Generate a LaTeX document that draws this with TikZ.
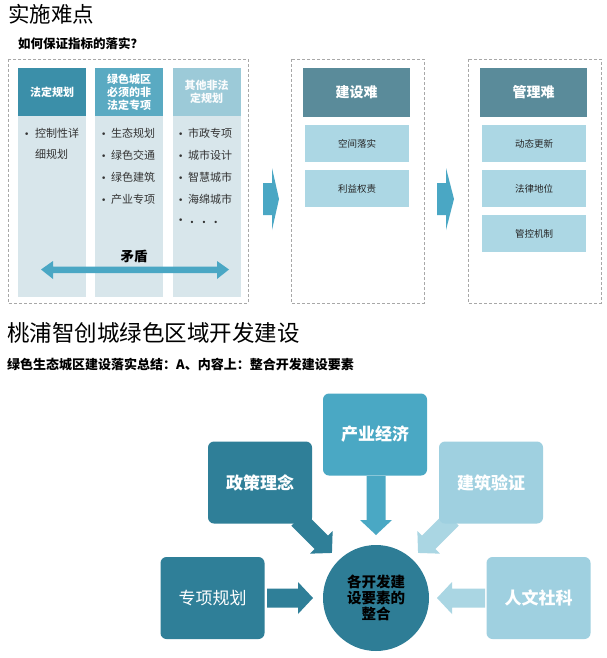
\documentclass[tikz,border=0pt]{standalone}
\usepackage{fontspec}
\setmainfont{Noto Sans CJK SC}
\newfontfamily\bulfont{DejaVu Sans}
\definecolor{hdrA}{HTML}{3B8FA9}
\definecolor{hdrB}{HTML}{5AAAC2}
\definecolor{hdrC}{HTML}{9CCAD8}
\definecolor{bodyc}{HTML}{D8E6EB}
\definecolor{arrc}{HTML}{4AA7C4}
\definecolor{slate}{HTML}{5A8B9A}
\definecolor{itemc}{HTML}{ACD7E4}
\definecolor{midc}{HTML}{4AA8C4}
\definecolor{darkc}{HTML}{2F7F98}
\definecolor{circc}{HTML}{2E7D96}
\definecolor{lightc}{HTML}{9FD0E0}
\definecolor{lightarr}{HTML}{AAD6E3}
\definecolor{dashc}{HTML}{A8A8A8}
\newcommand{\blkarrow}[4]{%
  \fill[#4, shift={#1}, rotate=#2] (0,-9.5) -- (#3-15,-9.5) -- (#3-15,-16) -- (#3,0) -- (#3-15,16) -- (#3-15,9.5) -- (0,9.5) -- cycle;}
\newcommand{\bul}[1]{\makebox[#1][l]{{\bulfont\fontsize{9}{11}\selectfont •}}}
\begin{document}
\begin{tikzpicture}[x=1pt,y=-1pt,
  dbox/.style={draw=dashc, densely dashed, line width=0.6pt},
  hdr/.style={inner sep=0pt, text=white, font=\fontsize{11}{13}\selectfont\bfseries, align=center, minimum width=68pt, minimum height=48pt},
  bodybox/.style={fill=bodyc, inner sep=0pt, minimum width=68pt, minimum height=181pt},
  item/.style={anchor=west, inner sep=0pt, font=\fontsize{11}{13}\selectfont, text=black!80},
  shdr/.style={fill=slate, inner sep=0pt, text=white, font=\fontsize{14}{16}\selectfont\bfseries, minimum width=107pt, minimum height=49pt},
  sitem/.style={fill=itemc, inner sep=0pt, text=black!85, font=\fontsize{9.5}{11}\selectfont, minimum width=104pt, minimum height=37pt},
  rbox/.style={rounded corners=6pt, inner sep=0pt, text=white, font=\fontsize{17}{19}\selectfont\bfseries, minimum width=104pt, minimum height=82pt}
]
\useasboundingbox[fill=white] (0,0) rectangle (607,658);

% titles
\node[anchor=north west, inner sep=0pt, font=\fontsize{21.5}{24}\selectfont] (t1) at (8,4) {实施难点};
\node[anchor=north west, inner sep=0pt, font=\fontsize{12.5}{14}\selectfont\bfseries] (t2) at (18,37) {如何保证指标的落实？};

% dashed containers
\draw[dbox] (8,59) rectangle (248,303);
\draw[dbox] (291,59) rectangle (424,303);
\draw[dbox] (468,59) rectangle (601,303);

% three columns
\node[bodybox] (b1) at (52,206.5) {};
\node[bodybox] (b2) at (129,206.5) {};
\node[bodybox] (b3) at (206.5,206.5) {};
\node[hdr, fill=hdrA] (h1) at (52,92) {法定规划};
\node[hdr, fill=hdrB] (h2) at (129,92) {绿色城区\\必须的非\\法定专项};
\node[hdr, fill=hdrC, text=white!95!hdrC] (h3) at (206.5,92) {其他非法\\定规划};

\node[item] (a1) at (24,133) {\bul{11pt}控制性详};
\node[item] (a2) at (35,154) {细规划};

\node[item] (m1) at (101,133) {\bul{10pt}生态规划};
\node[item] (m2) at (101,155) {\bul{10pt}绿色交通};
\node[item] (m3) at (101,177) {\bul{10pt}绿色建筑};
\node[item] (m4) at (101,199) {\bul{10pt}产业专项};

\node[item] (r1) at (178,133) {\bul{10pt}市政专项};
\node[item] (r2) at (178,155) {\bul{10pt}城市设计};
\node[item] (r3) at (178,177) {\bul{10pt}智慧城市};
\node[item] (r4) at (178,199) {\bul{10pt}海绵城市};
\node[item] (r5) at (178,221) {\bul{12pt}{\bfseries .\hspace{8pt}.\hspace{8pt}.}};

\node[inner sep=0pt, font=\fontsize{13.5}{15}\selectfont\bfseries] (md) at (134,256) {矛盾};
\fill[arrc] (41,269.5) -- (53,261) -- (53,266.5) -- (217,266.5) -- (217,261) -- (229,269.5)
  -- (217,279) -- (217,273) -- (53,273) -- (53,279) -- cycle;

% chevrons
\fill[arrc] (263,183) -- (272,183) -- (272,168) -- (279,199) -- (272,230) -- (272,215) -- (263,215) -- cycle;
\fill[arrc] (437,183) -- (446,183) -- (446,168) -- (454,199) -- (446,230) -- (446,215) -- (437,215) -- cycle;

% construction column
\node[shdr] (s0) at (356.5,92.5) {建设难};
\node[sitem] (s1) at (357,143.5) {空间落实};
\node[sitem] (s2) at (357,188.5) {利益权责};
% management column
\node[shdr] (g0) at (533.5,92.5) {管理难};
\node[sitem] (g1) at (534,143.5) {动态更新};
\node[sitem] (g2) at (534,188.5) {法律地位};
\node[sitem] (g3) at (534,233.5) {管控机制};

% second part titles
\node[anchor=north west, inner sep=0pt, font=\fontsize{22.5}{25}\selectfont] (t3) at (7,322) {桃浦智创城绿色区域开发建设};
\node[anchor=north west, inner sep=0pt, font=\fontsize{13}{15}\selectfont\bfseries] (t4) at (7,358) {绿色生态城区建设落实总结：A、内容上：整合开发建设要素};

% block arrows
\blkarrow{(267,598)}{0}{46}{darkc}
\blkarrow{(485,598)}{180}{48}{lightarr}
\blkarrow{(376,476)}{-90}{59}{midc}
\blkarrow{(298,519)}{-45}{48}{darkc}
\blkarrow{(452,519)}{-135}{48}{lightarr}

% boxes
\node[rbox, fill=midc] (p1) at (375,434.5) {产业经济};
\node[rbox, fill=darkc] (p2) at (260,482.5) {政策理念};
\node[rbox, fill=lightc] (p3) at (491,482.5) {建筑验证};
\node[rbox, fill=darkc, font=\fontsize{17}{19}\selectfont] (p4) at (212.5,598) {专项规划};
\node[rbox, fill=lightc] (p5) at (538.5,598) {人文社科};

\node[circle, fill=circc, minimum size=106pt, inner sep=0pt, align=center,
  font=\fontsize{14.5}{16}\selectfont\bfseries, text=black] (c) at (376,598) {各开发建\\设要素的\\整合};
\end{tikzpicture}
\end{document}
